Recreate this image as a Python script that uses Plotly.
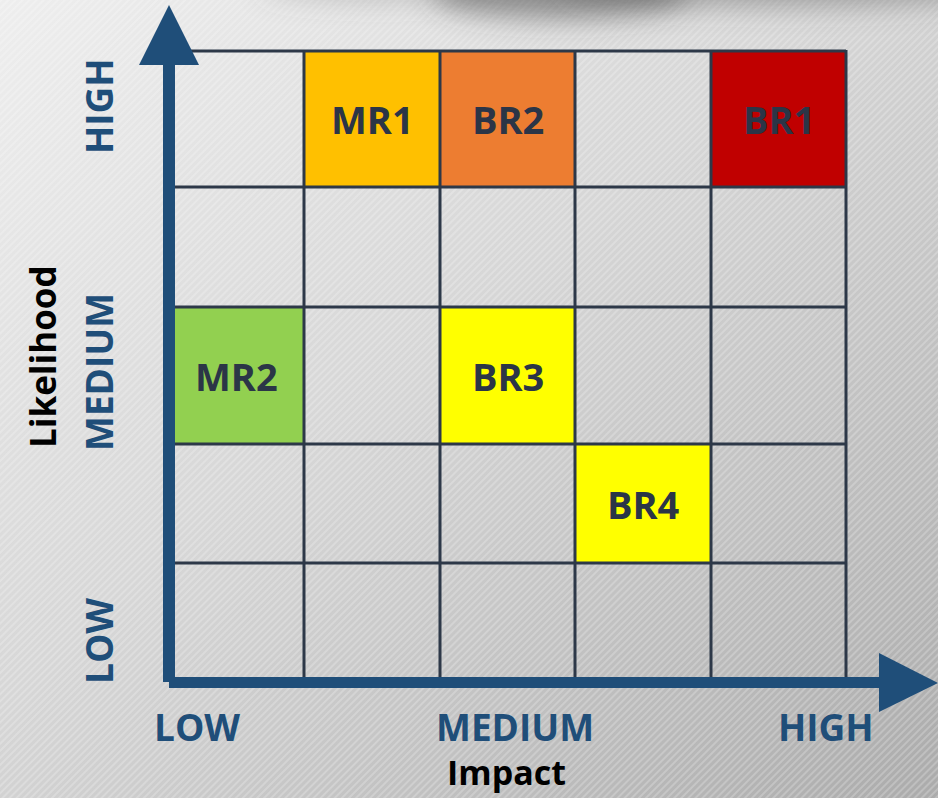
import base64
import plotly.graph_objects as go

# ---- data -------------------------------------------------------------
risks = ["MR1", "BR2", "BR1", "MR2", "BR3", "BR4"]
impact = [2, 3, 5, 1, 3, 4]          # 1 = low ... 5 = high
likelihood = [5, 5, 5, 3, 3, 2]      # 1 = low ... 5 = high
risk_colors = ["#FFC000", "#ED7D31", "#C00000", "#92D050", "#FFFF00", "#FFFF00"]

level_labels = ["LOW", "MEDIUM", "HIGH"]
x_title = "Impact"
y_title = "Likelihood"

# ---- geometry (page pixels) ------------------------------------------
W, H = 938, 798
COL_EDGES = [169, 304, 440, 575, 711, 846]   # impact 1..5
ROW_EDGES = [680, 563, 444, 307, 187, 51]    # likelihood 1..5 (bottom -> top)
AXIS_BLUE = "#1F4E79"
GRID = "#2D3848"
CELL_TEXT = "#2B3547"
FONT = "Open Sans"


def cell_box(i, l):
    return COL_EDGES[i - 1], COL_EDGES[i], ROW_EDGES[l - 1], ROW_EDGES[l]


# ---- background: grey gradient, fine diagonal stripes, top shadow ------
svg = f"""<svg xmlns='http://www.w3.org/2000/svg' width='{W}' height='{H}' viewBox='0 0 {W} {H}'>
<defs>
<linearGradient id='g' x1='0' y1='0' x2='1' y2='1'>
<stop offset='0' stop-color='#EEEEEE'/>
<stop offset='0.45' stop-color='#D6D6D6'/>
<stop offset='1' stop-color='#ABABAB'/>
</linearGradient>
<pattern id='p' width='5' height='5' patternUnits='userSpaceOnUse' patternTransform='rotate(45)'>
<rect x='0' y='0' width='2' height='5' fill='#FFFFFF' fill-opacity='0.22'/>
</pattern>
<filter id='b' x='-50%' y='-200%' width='200%' height='500%'>
<feGaussianBlur stdDeviation='14'/>
</filter>
</defs>
<rect width='{W}' height='{H}' fill='url(#g)'/>
<rect width='{W}' height='{H}' fill='url(#p)'/>
<ellipse cx='560' cy='-8' rx='130' ry='26' fill='#444' fill-opacity='0.55' filter='url(#b)'/>
<ellipse cx='780' cy='-14' rx='220' ry='20' fill='#555' fill-opacity='0.45' filter='url(#b)'/>
<ellipse cx='380' cy='-16' rx='120' ry='16' fill='#666' fill-opacity='0.3' filter='url(#b)'/>
</svg>"""
bg_src = "data:image/svg+xml;base64," + base64.b64encode(svg.encode()).decode()

fig = go.Figure()
shapes = []

# coloured risk cells
for name, i, l, c in zip(risks, impact, likelihood, risk_colors):
    x0, x1, y0, y1 = cell_box(i, l)
    shapes.append(dict(type="rect", xref="x", yref="y", x0=x0, x1=x1, y0=y0, y1=y1,
                       fillcolor=c, line=dict(width=0), layer="above"))

# grid lines
for y in ROW_EDGES[1:]:
    shapes.append(dict(type="line", xref="x", yref="y", x0=COL_EDGES[0], x1=COL_EDGES[-1],
                       y0=y, y1=y, line=dict(color=GRID, width=3), layer="above"))
for x in COL_EDGES[1:]:
    shapes.append(dict(type="line", xref="x", yref="y", x0=x, x1=x,
                       y0=ROW_EDGES[-1] - 1, y1=ROW_EDGES[0], line=dict(color=GRID, width=3),
                       layer="above"))

# axis arrows
shapes += [
    dict(type="rect", xref="x", yref="y", x0=163, x1=175, y0=60, y1=682,
         fillcolor=AXIS_BLUE, line=dict(width=0), layer="above"),
    dict(type="path", xref="x", yref="y", path="M 139 65 L 169 5 L 199 65 Z",
         fillcolor=AXIS_BLUE, line=dict(width=0), layer="above"),
    dict(type="rect", xref="x", yref="y", x0=169, x1=882, y0=677, y1=688,
         fillcolor=AXIS_BLUE, line=dict(width=0), layer="above"),
    dict(type="path", xref="x", yref="y", path="M 879 653 L 938 683 L 879 712 Z",
         fillcolor=AXIS_BLUE, line=dict(width=0), layer="above"),
]

annotations = []
for name, i, l in zip(risks, impact, likelihood):
    x0, x1, y0, y1 = cell_box(i, l)
    annotations.append(dict(x=(x0 + x1) / 2, y=(y0 + y1) / 2, xref="x", yref="y",
                            text=f"<b>{name}</b>", showarrow=False,
                            font=dict(family=FONT, size=38, color=CELL_TEXT)))

# level labels along the impact axis
for lab, x in zip(level_labels, [197, 515, 826]):
    annotations.append(dict(x=x, y=726, xref="x", yref="y", text=f"<b>{lab}</b>",
                            showarrow=False, font=dict(family=FONT, size=37, color=AXIS_BLUE)))
# level labels along the likelihood axis
for lab, y in zip(level_labels, [641, 372, 106]):
    annotations.append(dict(x=98, y=y, xref="x", yref="y", text=f"<b>{lab}</b>",
                            textangle=-90, showarrow=False,
                            font=dict(family=FONT, size=37, color=AXIS_BLUE)))

annotations.append(dict(x=506, y=772, xref="x", yref="y", text=f"<b>{x_title}</b>",
                        showarrow=False, font=dict(family=FONT, size=34, color="#000000")))
annotations.append(dict(x=42, y=357, xref="x", yref="y", text=f"<b>{y_title}</b>",
                        textangle=-90, showarrow=False,
                        font=dict(family=FONT, size=35, color="#000000")))

fig.update_layout(
    width=W, height=H,
    margin=dict(l=0, r=0, t=0, b=0),
    paper_bgcolor="#D0D0D0", plot_bgcolor="rgba(0,0,0,0)",
    xaxis=dict(range=[0, W], visible=False, fixedrange=True),
    yaxis=dict(range=[H, 0], visible=False, fixedrange=True),
    shapes=shapes, annotations=annotations, showlegend=False,
    images=[dict(source=bg_src, xref="paper", yref="paper", x=0, y=1,
                 sizex=1, sizey=1, sizing="stretch", xanchor="left", yanchor="top",
                 layer="below")],
)

fig.write_html("out.html", config={"displayModeBar": False})
